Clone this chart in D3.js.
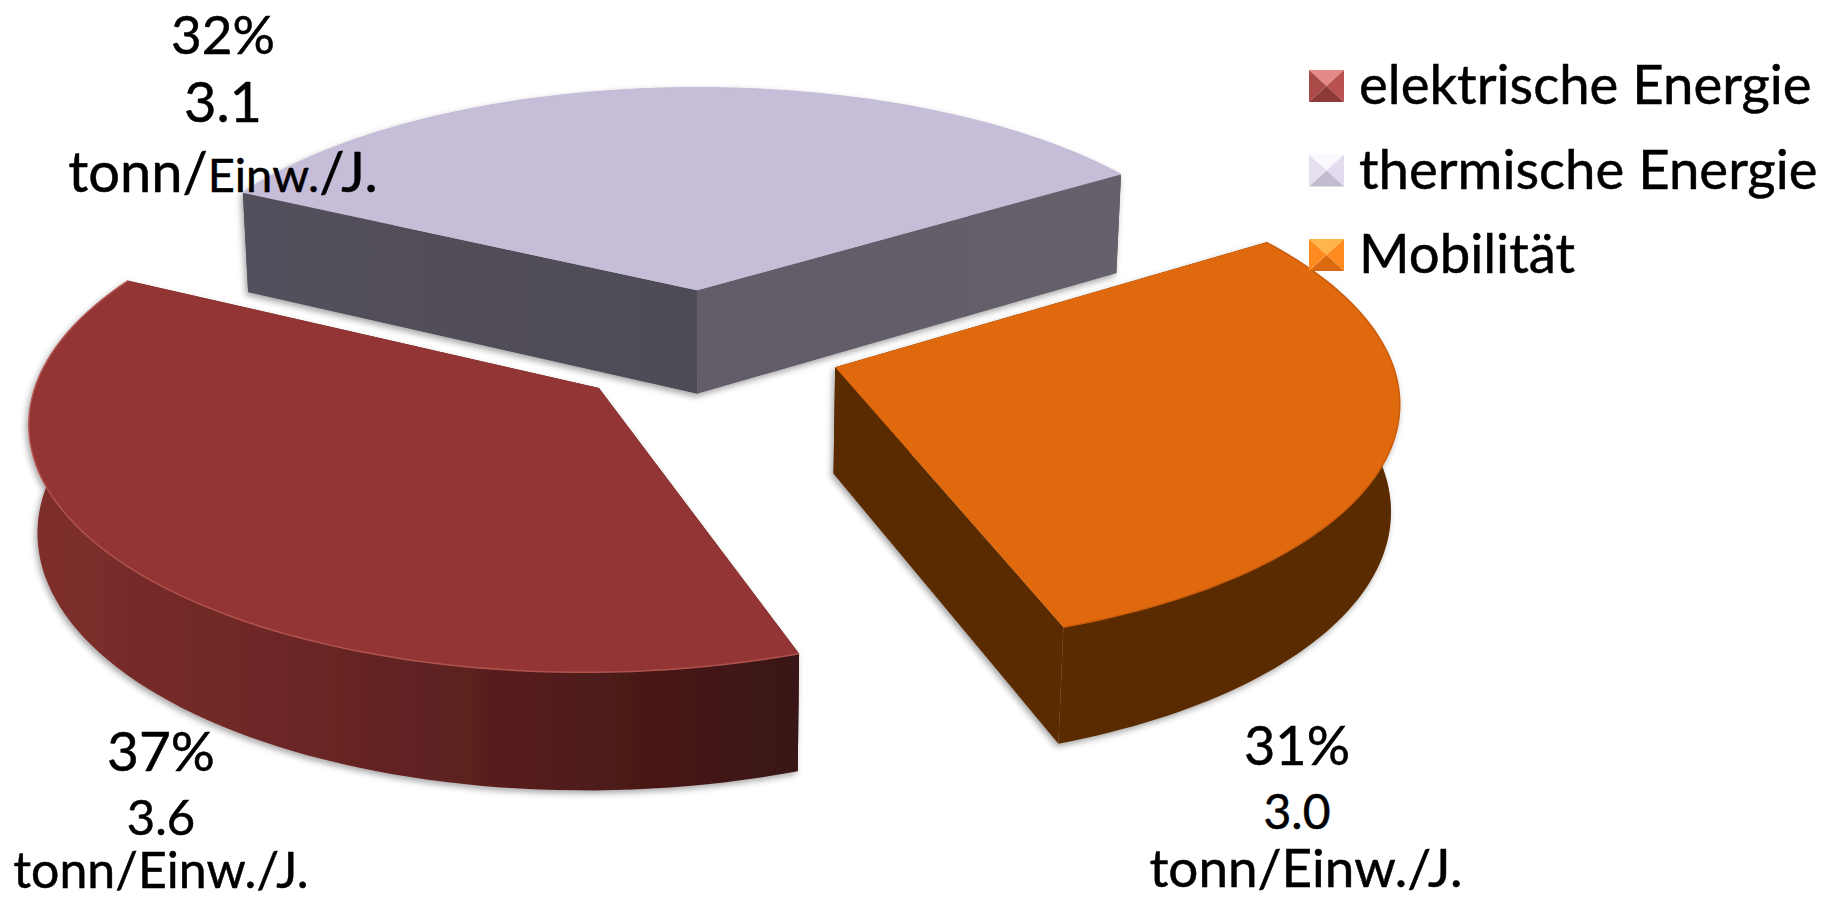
<!DOCTYPE html>
<html lang="de">
<head>
  <meta charset="UTF-8">
  <title>Energie Kreisdiagramm</title>
  <script src="https://cdn.jsdelivr.net/npm/d3@7"></script>
  <style>
    body { margin:0; background:#fff; }
    svg { display:block; }
    text { font-family: Lato, Carlito, "Open Sans", sans-serif; fill:#000; stroke:#000; stroke-width:0.5px; }
  </style>
</head>
<body>
  <svg id="chart" width="1829" height="900"></svg>

  <script>
  // Werte
  const categories = ["elektrische Energie", "thermische Energie", "Mobilität"];
  const percents = [37, 32, 31];
  const tonnes = ["3.6", "3.1", "3.0"];

  const width = 1829, height = 900;
  const svg = d3.select("#chart").attr("viewBox", [0, 0, width, height]);

  // Projektion: flache Kamera von schräg oben
  const cx = 704, cy = 348, scale = 553;
  const tilt = 25.7 * Math.PI / 180, persp = 0.133;
  const thick = 0.215, explode = 0.248;
  function project(x, y, z) {
    const w = 1 - persp * (y * Math.cos(tilt) - z * Math.sin(tilt));
    return [cx + scale * x / w, cy + scale * (y * Math.sin(tilt) + z * Math.cos(tilt)) / w];
  }

  const startDeg = 160.4;
  const rad = Math.PI / 180;
  const pie = d3.pie().sort(null)
    .startAngle(startDeg * rad)
    .endAngle((startDeg + 360) * rad);
  const slices = pie(percents);

  // das Original ist leicht verzerrt, die Sektorgrenzen liegen nicht ganz proportional
  const warp = d3.scaleLinear()
    .domain([startDeg, startDeg + 133.2, startDeg + 248.4, startDeg + 360].map(d => d * rad))
    .range([startDeg, 297, 417, startDeg + 360].map(d => d * rad));

  // Farben je Kategorie
  const topColor = d3.scaleOrdinal(categories, ["#933634", "#c6bdd9", "#e0690a"]);
  const edgeColor = d3.scaleOrdinal(categories, ["#b0524e", "#c6bdd9", "#c95c08"]);

  const defs = svg.append("defs");
  const shadow = defs.append("filter").attr("id", "shadow")
    .attr("x", "-5%").attr("y", "-5%").attr("width", "110%").attr("height", "115%");
  shadow.append("feDropShadow")
    .attr("dx", -2).attr("dy", 3).attr("stdDeviation", 3)
    .attr("flood-color", "#000").attr("flood-opacity", 0.35);

  function gradient(id, stops, x1, x2) {
    const g = defs.append("linearGradient").attr("id", id)
      .attr("gradientUnits", "userSpaceOnUse")
      .attr("x1", x1).attr("x2", x2).attr("y1", 0).attr("y2", 0);
    stops.forEach((c, i) => g.append("stop")
      .attr("offset", i / (stops.length - 1)).attr("stop-color", c));
  }
  gradient("redWall", ["#7f2f2c", "#6c2726", "#541d1c", "#391312"], 30, 800);
  gradient("lilacLeft", ["#53505b", "#504c57"], 245, 697);
  gradient("lilacRight", ["#625b68", "#665f6c"], 697, 1120);

  const wallFill = [
    { outer: "url(#redWall)", first: "url(#redWall)", second: "url(#redWall)" },
    { outer: "#555", first: "url(#lilacLeft)", second: "url(#lilacRight)" },
    { outer: "#5a2a00", first: "#5a2a00", second: "#5a2a00" }
  ];

  const line = d3.line();

  // Punkte eines Bogens für einen Winkelbereich
  function arcPoints(a0, a1, ox, oy, z) {
    return d3.range(0, 81).map(i => {
      const a = a0 + (a1 - a0) * i / 80;
      return project(ox + Math.sin(a), oy - Math.cos(a), z);
    });
  }

  // hinten zuerst
  const order = [1, 0, 2];
  order.forEach(i => {
    const d = slices[i];
    const a0 = warp(d.startAngle), a1 = warp(d.endAngle);
    const mid = (a0 + a1) / 2;
    const ox = explode * Math.sin(mid), oy = -explode * Math.cos(mid);
    const g = svg.append("g").attr("filter", "url(#shadow)");
    const apexTop = project(ox, oy, 0), apexBot = project(ox, oy, thick);
    const topArc = arcPoints(a0, a1, ox, oy, 0);
    const botArc = arcPoints(a0, a1, ox, oy, thick);

    // äussere Wand zuerst, die Rückseite verdecken die anderen Flächen
    g.append("path")
      .attr("d", line(topArc.concat(botArc.slice().reverse())) + "Z")
      .attr("fill", wallFill[i].outer);
    // radiale Wände
    g.append("path")
      .attr("d", line([apexTop, topArc[80], botArc[80], apexBot]) + "Z")
      .attr("fill", wallFill[i].second);
    g.append("path")
      .attr("d", line([apexTop, topArc[0], botArc[0], apexBot]) + "Z")
      .attr("fill", wallFill[i].first);
    // Deckfläche
    g.append("path")
      .attr("d", line([apexTop, ...topArc]) + "Z")
      .attr("fill", topColor(categories[i]));
    g.append("path")
      .attr("d", line(topArc))
      .attr("fill", "none")
      .attr("stroke", edgeColor(categories[i]))
      .attr("stroke-width", 1.5);
  });

  // Datenbeschriftung
  const labelPos = [
    { x: 161, tx: 161, y: [771, 835, 888], size: [55, 49, 50] },
    { x: 223, tx: 223, y: [54, 122, 192], size: [53, 56, 56] },
    { x: 1297, tx: 1306, y: [765, 829, 887], size: [54, 48, 53] }
  ];
  percents.forEach((p, i) => {
    const l = labelPos[i];
    const t = svg.append("g").attr("text-anchor", "middle");
    t.append("text").attr("x", l.x).attr("y", l.y[0]).attr("font-size", l.size[0]).text(p + "%");
    t.append("text").attr("x", l.x).attr("y", l.y[1]).attr("font-size", l.size[1]).text(tonnes[i]);
    const u = t.append("text").attr("x", l.tx).attr("y", l.y[2]).attr("font-size", l.size[2]);
    u.append("tspan").text("tonn/");
    // in der oberen Beschriftung ist "Einw." etwas kleiner gesetzt
    u.append("tspan").attr("font-size", i === 1 ? "0.84em" : "1em").text("Einw.");
    u.append("tspan").text("/J.");
  });

  // Legende
  const legendY = d3.scalePoint().domain(categories).range([86, 255]);
  const swatch = [
    ["#e58a88", "#b9514f", "#8c3a38", "#a94a48"],
    ["#fbf9fd", "#e3dcee", "#c3bbcf", "#e6dff0"],
    ["#ffb54a", "#ff8a1f", "#d96a10", "#ff8a1f"]
  ];
  const legend = svg.append("g");
  categories.forEach((c, i) => {
    const y = legendY(c), x0 = 1309, x1 = 1344, y0 = y - 16, y1 = y + 16;
    const mx = (x0 + x1) / 2, my = y;
    const tris = [
      [[x0, y0], [x1, y0], [mx, my]],
      [[x1, y0], [x1, y1], [mx, my]],
      [[x1, y1], [x0, y1], [mx, my]],
      [[x0, y1], [x0, y0], [mx, my]]
    ];
    tris.forEach((tr, k) => legend.append("path")
      .attr("d", line(tr) + "Z").attr("fill", swatch[i][k]));
    legend.append("text")
      .attr("x", 1359).attr("y", y + 18)
      .attr("font-size", 54.5)
      .text(c);
  });
  </script>
</body>
</html>
